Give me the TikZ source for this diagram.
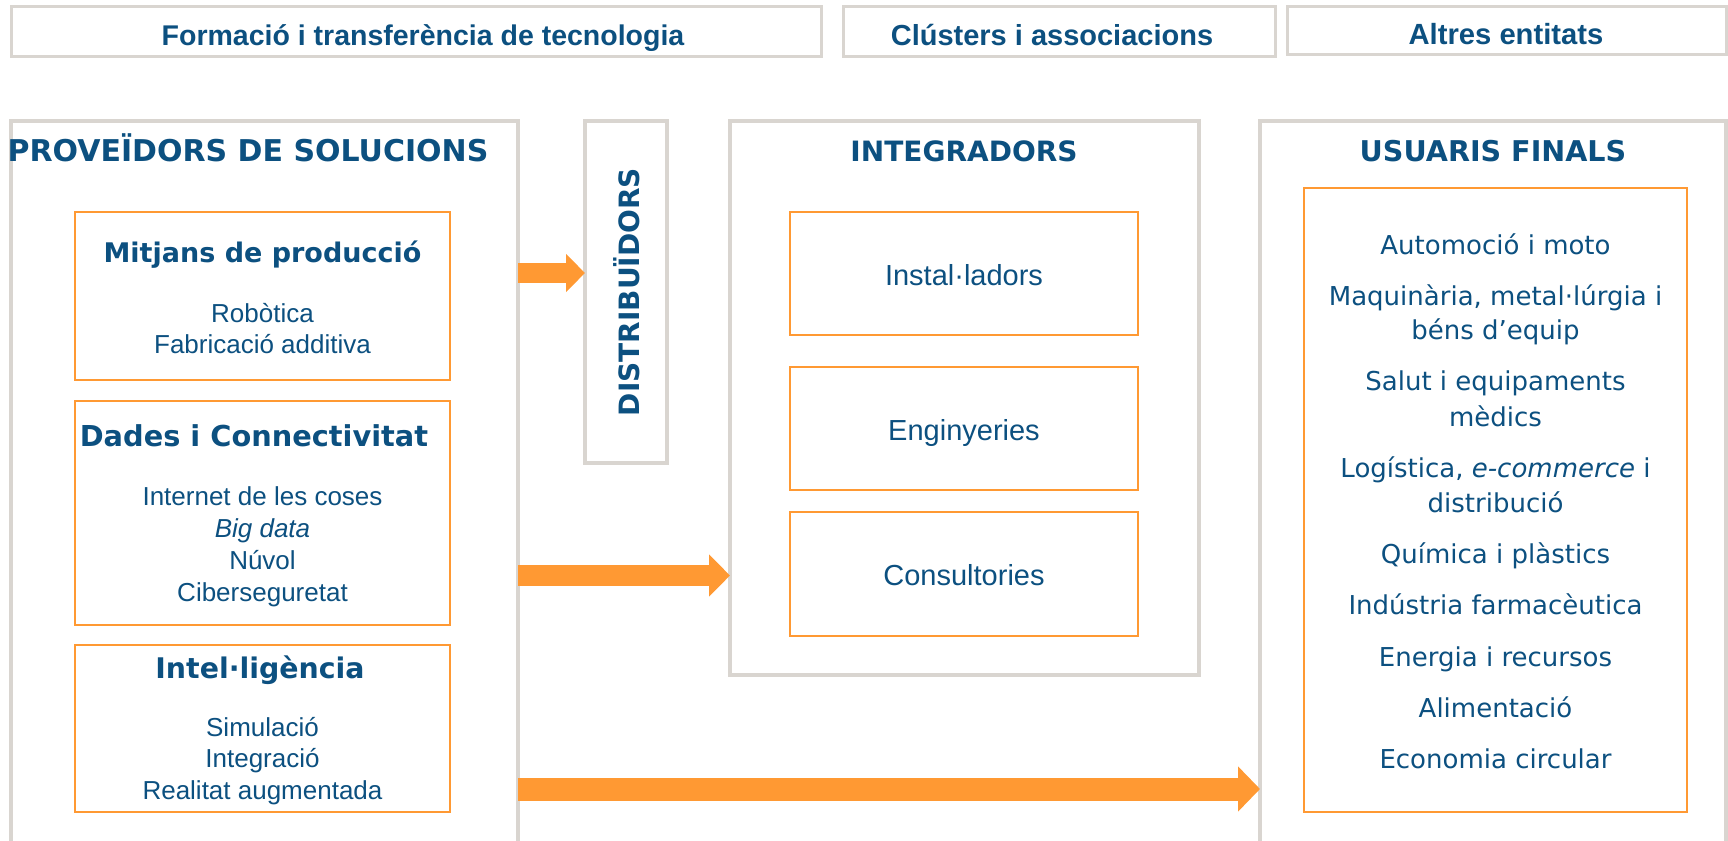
\documentclass[tikz,border=0pt]{standalone}
\usepackage{fontspec}
\setmainfont{Liberation Sans}
\newfontfamily\vfont{DejaVu Sans}
\usetikzlibrary{arrows.meta}
\definecolor{txt}{RGB}{12,80,128}
\definecolor{org}{RGB}{255,153,51}
\definecolor{gry}{RGB}{217,213,208}
\begin{document}
\begin{tikzpicture}[x=1pt,y=-1pt,
  box/.style={anchor=north west,inner sep=0pt,outer sep=0pt,fill=white},
  graybox/.style={box,draw=gry,line width=3.5pt},
  hdrbox/.style={box,draw=gry,line width=3pt},
  hdr/.style={anchor=base,text=txt,inner sep=0pt,font=\bfseries\fontsize{#1}{33}\selectfont},
  ttl/.style={anchor=base,text=txt,inner sep=0pt,font=\vfont\bfseries\fontsize{28}{32}\selectfont},
  sub/.style={anchor=base,text=txt,inner sep=0pt,font=\vfont\bfseries\fontsize{#1}{32}\selectfont},
  itm/.style={anchor=base,text=txt,inner sep=0pt,font=\fontsize{26}{31}\selectfont},
  big/.style={anchor=base,text=txt,inner sep=0pt,font=\fontsize{29}{34}\selectfont},
  usr/.style={anchor=base,text=txt,inner sep=0pt,font=\vfont\fontsize{26}{31}\selectfont},
  orgbox/.style={box,draw=org,line width=2.5pt},
  flow/.style={draw=org,line width=#1},
]
\useasboundingbox (0,0) rectangle (1728,840);
\clip (0,0) rectangle (1728,840);

% header boxes
\node[hdrbox,minimum width=810pt,minimum height=50pt] (h1) at (11,7) {};
\node[hdrbox,minimum width=432pt,minimum height=50pt] (h2) at (843,7) {};
\node[hdrbox,minimum width=439pt,minimum height=48pt] (h3) at (1287,7) {};
\node[hdr=28.5] (h1t) at (423,45.5) {Formació i transferència de tecnologia};
\node[hdr=29] (h2t) at (1052,45.5) {Clústers i associacions};
\node[hdr=29.2] (h3t) at (1506,44.5) {Altres entitats};

% main columns
\node[graybox,minimum width=507pt,minimum height=760pt] (prov) at (11,121) {};
\node[graybox,minimum width=82pt,minimum height=342pt] (dist) at (585,121) {};
\node[graybox,minimum width=469pt,minimum height=554pt] (integ) at (730,121) {};
\node[graybox,minimum width=466pt,minimum height=760pt] (usu) at (1260,121) {};

\node[ttl,font=\vfont\bfseries\fontsize{30}{34}\selectfont] (provt) at (248,161) {PROVEÏDORS DE SOLUCIONS};
\node[ttl] (integt) at (964,161) {INTEGRADORS};
\node[ttl,font=\vfont\bfseries\fontsize{28.6}{32}\selectfont] (usut) at (1493,161) {USUARIS FINALS};
\node[anchor=center,text=txt,inner sep=0pt,rotate=90,font=\vfont\bfseries\fontsize{28}{32}\selectfont] (distt) at (627,292) {DISTRIBUÏDORS};

% proveidors sub boxes
\node[orgbox,minimum width=375pt,minimum height=168pt] (mit) at (75,212) {};
\node[orgbox,minimum width=375pt,minimum height=224pt] (dad) at (75,401) {};
\node[orgbox,minimum width=375pt,minimum height=167pt] (intl) at (75,645) {};

\node[sub=27] (mitt) at (262.5,262) {Mitjans de producció};
\node[itm] (m1) at (262.5,322) {Robòtica};
\node[itm] (m2) at (262.5,353) {Fabricació additiva};

\node[sub=28.8] (dadt) at (254,446) {Dades i Connectivitat};
\node[itm] (d1) at (262.5,505) {Internet de les coses};
\node[itm] (d2) at (262.5,537) {\itshape Big data};
\node[itm] (d3) at (262.5,569) {Núvol};
\node[itm] (d4) at (262.5,601) {Ciberseguretat};

\node[sub=28.4] (intlt) at (260,678) {Intel·ligència};
\node[itm] (i1) at (262.5,736) {Simulació};
\node[itm] (i2) at (262.5,767) {Integració};
\node[itm] (i3) at (262.5,799) {Realitat augmentada};

% integradors
\node[orgbox,minimum width=348pt,minimum height=123pt] (inst) at (790,212) {};
\node[orgbox,minimum width=348pt,minimum height=123pt] (eng) at (790,367) {};
\node[orgbox,minimum width=348pt,minimum height=124pt] (cons) at (790,512) {};
\node[big] (instt) at (964,285) {Instal·ladors};
\node[big] (engt) at (964,440) {Enginyeries};
\node[big] (const) at (964,585) {Consultories};

% usuaris finals
\node[orgbox,minimum width=383pt,minimum height=624pt] (usl) at (1304,188) {};
\node[usr] (u1) at (1495.5,254.5) {Automoció i moto};
\node[usr] (u2a) at (1495.5,305.5) {Maquinària, metal·lúrgia i};
\node[usr] (u2b) at (1495.5,339.5) {béns d’equip};
\node[usr] (u3a) at (1495.5,390.5) {Salut i equipaments};
\node[usr] (u3b) at (1495.5,426.5) {mèdics};
\node[usr] (u4a) at (1495.5,477) {Logística, \textit{e-commerce} i};
\node[usr] (u4b) at (1495.5,512.5) {distribució};
\node[usr] (u5) at (1495.5,563) {Química i plàstics};
\node[usr] (u6) at (1495.5,614) {Indústria farmacèutica};
\node[usr] (u7) at (1495.5,666) {Energia i recursos};
\node[usr] (u8) at (1495.5,717) {Alimentació};
\node[usr] (u9) at (1495.5,768.5) {Economia circular};

% arrows
\coordinate (r1) at (0,273);
\coordinate (r2) at (0,575.5);
\coordinate (r3) at (0,789);
\draw[flow=20pt,-{Triangle[length=19pt,width=37pt]}] (prov.east |- r1) -- (dist.west |- r1);
\draw[flow=21pt,-{Triangle[length=21pt,width=41pt]}] (prov.east |- r2) -- (integ.west |- r2);
\draw[flow=23pt,-{Triangle[length=22pt,width=44pt]}] (prov.east |- r3) -- (usu.west |- r3);
\end{tikzpicture}
\end{document}
